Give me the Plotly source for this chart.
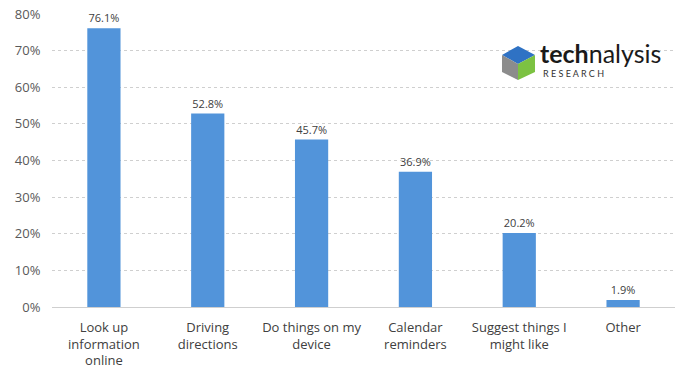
import plotly.graph_objects as go

categories = ["Look up<br>information<br>online", "Driving<br>directions", "Do things on my<br>device",
              "Calendar<br>reminders", "Suggest things I<br>might like", "Other"]
values = [76.1, 52.8, 45.7, 36.9, 20.2, 1.9]
labels = ["76.1%", "52.8%", "45.7%", "36.9%", "20.2%", "1.9%"]
tick_vals = [0, 10, 20, 30, 40, 50, 60, 70, 80]
tick_text = ["0%", "10%", "20%", "30%", "40%", "50%", "60%", "70%", "80%"]

W, H = 683, 377
L, R, T, B = 52, 8, 14, 70

fig = go.Figure(go.Bar(
    x=categories, y=values, text=labels, textposition="outside",
    textfont=dict(size=11, color="#404040", family="Open Sans"),
    marker=dict(color="#5294da", line=dict(width=0)), cliponaxis=False,
))

fig.update_layout(
    width=W, height=H, margin=dict(l=L, r=R, t=T, b=B, autoexpand=False),
    plot_bgcolor="white", paper_bgcolor="white", bargap=0.68,
    font=dict(family="Open Sans", color="#404040"), showlegend=False,
)
fig.update_yaxes(range=[0, 80], tickvals=tick_vals, ticktext=tick_text, automargin=False,
                 tickfont=dict(size=13, color="#595959"), ticklabeloverflow="allow",
                 showgrid=True, gridcolor="#cfcfcf", griddash="dot", gridwidth=1,
                 zeroline=False, showline=False, ticks="outside", ticklen=8, tickcolor="white")
fig.update_xaxes(tickfont=dict(size=13, color="#404040"), showline=True, linecolor="#cfcfcf",
                 automargin=False, ticks="outside", ticklen=8, tickcolor="white")

def px(x, y):
    # page pixel -> paper coords
    return (x - L) / (W - L - R), (H - B - y) / (H - T - B)

def path(pts):
    s = ""
    for i, (x, y) in enumerate(pts):
        a, b = px(x, y)
        s += ("M" if i == 0 else "L") + f"{a:.4f},{b:.4f} "
    return s + "Z"

cube = [
    ([(502, 55), (518, 46), (535, 55), (518, 64)], "#2f72c4"),
    ([(502, 55), (518, 64), (518, 80), (502, 72)], "#8c8c8c"),
    ([(518, 64), (535, 55), (535, 72), (518, 80)], "#7cc242"),
]
for pts, col in cube:
    fig.add_shape(type="path", xref="paper", yref="paper", path=path(pts),
                  fillcolor=col, line=dict(width=0))

ax, ay = px(538, 53)
fig.add_annotation(xref="paper", yref="paper", x=ax, y=ay, xanchor="left", yanchor="middle",
                   text="<b>tech</b>nalysis", showarrow=False,
                   font=dict(size=25, color="#1a1a1a", family="Lato"))
bx, by = px(541, 73)
fig.add_annotation(xref="paper", yref="paper", x=bx, y=by, xanchor="left", yanchor="middle",
                   text="R E S E A R C H", showarrow=False,
                   font=dict(size=9, color="#333333", family="Lato"))

fig.write_html("out.html", config={"displayModeBar": False},
               post_script="document.body.style.margin='0';document.body.style.overflow='hidden';")
